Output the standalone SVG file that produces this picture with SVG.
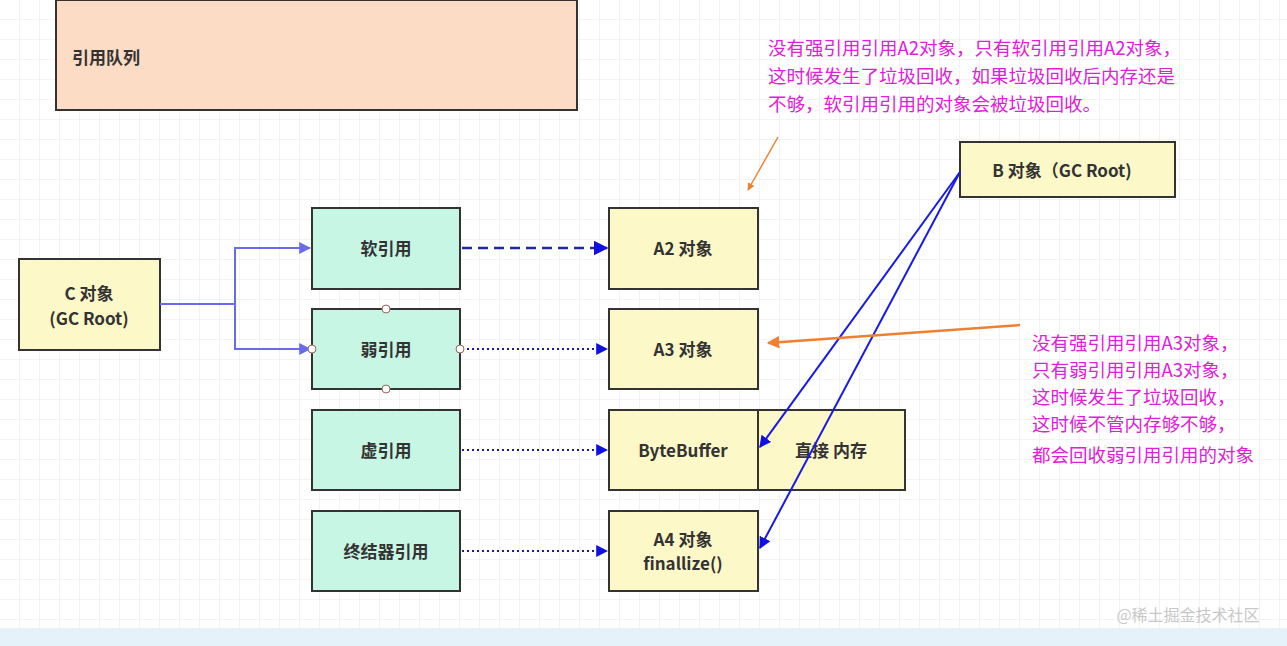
<svg xmlns="http://www.w3.org/2000/svg" width="1287" height="646" viewBox="0 0 1287 646">
<defs>
<pattern id="grid" width="20" height="20" patternUnits="userSpaceOnUse"><path d="M20 0V20H0" fill="none" stroke="#e6e6e6" stroke-width="1"/></pattern>
<marker id="ab" viewBox="0 0 10 10" refX="9" refY="5" markerWidth="6" markerHeight="6" orient="auto"><path d="M0 0L10 5L0 10z" fill="#1010e0"/></marker>
<marker id="al" viewBox="0 0 10 10" refX="9" refY="5" markerWidth="6" markerHeight="6" orient="auto"><path d="M0 0L10 5L0 10z" fill="#6a6aee"/></marker>
<marker id="ao" viewBox="0 0 10 10" refX="9" refY="5" markerWidth="5" markerHeight="5" orient="auto"><path d="M0 0L10 5L0 10z" fill="#f08030"/></marker>
</defs>
<style>
text{font-family:"Noto Sans CJK SC","Liberation Sans",sans-serif;font-size:17px;fill:#333;font-weight:bold;text-anchor:middle}
.y{fill:#fdf8c8;stroke:#333;stroke-width:2}
.g{fill:#c8f6e4;stroke:#333;stroke-width:2}
.n{font-weight:normal;text-anchor:start;fill:#e020d8;font-size:18.5px}
.c{fill:#fff;stroke:#a06060;stroke-width:1}
</style>
<rect width="1287" height="646" fill="#fff"/>
<rect width="1287" height="646" fill="url(#grid)"/>
<rect x="0" y="628" width="1287" height="18" fill="#e6f2fa"/>
<g id="queue"><rect x="56" y="0" width="521" height="110" fill="#fcdcc4" stroke="#333" stroke-width="2"/><text x="106" y="64">引用队列</text></g>
<g id="C"><rect class="y" x="19" y="259" width="141" height="91"/><text x="89" y="300">C 对象</text><text x="89" y="325">(GC Root)</text></g>
<g id="soft"><rect class="g" x="312" y="208" width="148" height="81"/><text x="386" y="255">软引用</text></g>
<g id="weak"><rect class="g" x="312" y="309" width="148" height="80"/><text x="386" y="356">弱引用</text></g>
<g id="phantom"><rect class="g" x="312" y="410" width="148" height="80"/><text x="386" y="457">虚引用</text></g>
<g id="final"><rect class="g" x="312" y="511" width="148" height="80"/><text x="386" y="558">终结器引用</text></g>
<g id="A2"><rect class="y" x="609" y="208" width="149" height="81"/><text x="683" y="255">A2 对象</text></g>
<g id="A3"><rect class="y" x="609" y="309" width="149" height="80"/><text x="683" y="356">A3 对象</text></g>
<g id="BB"><rect class="y" x="609" y="410" width="149" height="80"/><text x="683" y="457">ByteBuffer</text></g>
<g id="mem"><rect class="y" x="758" y="410" width="147" height="80"/><text x="831" y="457">直接 内存</text></g>
<g id="A4"><rect class="y" x="609" y="511" width="149" height="80"/><text x="683" y="546">A4 对象</text><text x="683" y="570">finallize()</text></g>
<g id="B"><rect class="y" x="960" y="142" width="215" height="55"/><text x="1062" y="177">B 对象（GC Root)</text></g>
<g id="connectors" fill="none">
<path d="M160 304H235V248H310" stroke="#6a6aee" stroke-width="2" marker-end="url(#al)"/>
<path d="M235 304V349H310" stroke="#6a6aee" stroke-width="2" marker-end="url(#al)"/>
<path d="M462 248H607" stroke="#1a2aa0" stroke-width="2.5" stroke-dasharray="10,6" marker-end="url(#ab)"/>
<path d="M462 349H607" stroke="#1a1aa0" stroke-width="2" stroke-dasharray="2,3" marker-end="url(#ab)"/>
<path d="M462 450H607" stroke="#1a1aa0" stroke-width="2" stroke-dasharray="2,3" marker-end="url(#ab)"/>
<path d="M462 551H607" stroke="#1a1aa0" stroke-width="2" stroke-dasharray="2,3" marker-end="url(#ab)"/>
<path d="M960 172L760 447" stroke="#1a1ae6" stroke-width="2" marker-end="url(#ab)"/>
<path d="M960 172L760 548" stroke="#1a1ae6" stroke-width="2" marker-end="url(#ab)"/>
<path d="M778 137L748 190" stroke="#f08030" stroke-width="1.5" marker-end="url(#ao)"/>
<path d="M1020 325L768 343" stroke="#f08030" stroke-width="2.5" marker-end="url(#ao)"/>
<circle class="c" cx="386" cy="309" r="4"/><circle class="c" cx="386" cy="389" r="4"/><circle class="c" cx="312" cy="349" r="4"/><circle class="c" cx="460" cy="349" r="4"/>
</g>
<g id="notes">
<text class="n" x="768" y="55">没有强引用引用A2对象，只有软引用引用A2对象，</text>
<text class="n" x="768" y="83">这时候发生了垃圾回收，如果垃圾回收后内存还是</text>
<text class="n" x="768" y="111">不够，软引用引用的对象会被垃圾回收。</text>
<text class="n" x="1032" y="350">没有强引用引用A3对象，</text>
<text class="n" x="1032" y="377">只有弱引用引用A3对象，</text>
<text class="n" x="1032" y="404">这时候发生了垃圾回收，</text>
<text class="n" x="1032" y="431">这时候不管内存够不够，</text>
<text class="n" x="1032" y="462">都会回收弱引用引用的对象</text>
<text x="1188" y="621" style="font-weight:normal;font-size:16px;fill:#c8c8c8">@稀土掘金技术社区</text>
</g>
</svg>
